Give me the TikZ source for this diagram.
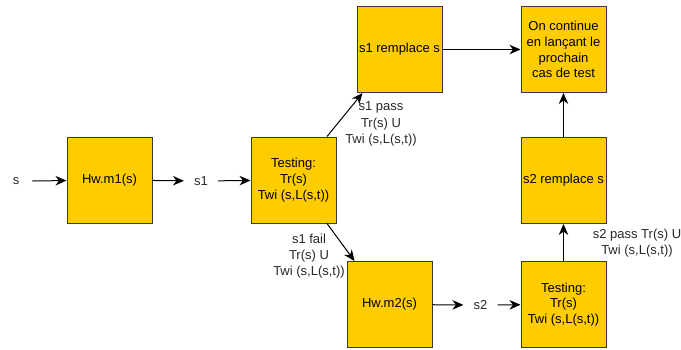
\documentclass[tikz,border=0pt]{standalone}
\usepackage{fontspec}
\setmainfont{Liberation Sans}
\usetikzlibrary{arrows.meta}
\definecolor{boxfill}{RGB}{255,204,0}
\definecolor{boxline}{RGB}{54,57,61}
\definecolor{lbl}{RGB}{40,40,40}
\begin{document}
\begin{tikzpicture}[x=1pt,y=-1pt,
  box/.style={draw=boxline,fill=boxfill,line width=1pt,minimum width=85pt,minimum height=86pt,inner sep=2pt,align=center,font=\fontsize{13}{15.7}\selectfont,text=black},
  sig/.style={inner xsep=10pt,inner ysep=2pt,font=\fontsize{13}{15.7}\selectfont,text=lbl},
  elab/.style={align=center,font=\fontsize{13}{16.2}\selectfont,text=lbl,inner sep=0pt},
  conn/.style={line width=1pt,-{Stealth[length=11pt,width=9.5pt,inset=3.5pt]}}]
\useasboundingbox (0,0) rectangle (681,349);
\node[sig] (s) at (16,181) {s};
\node[box] (hw1) at (109.5,180) {Hw.m1(s)};
\node[sig] (s1) at (201,181) {s1};
\node[box] (t1) at (293.5,180) {Testing:\\Tr(s)\\Twi (s,L(s,t))};
\node[box] (r1) at (399.5,49.5) {s1 remplace s};
\node[box] (oc) at (563.5,49.5) {On continue\\en lançant le\\prochain\\cas de test};
\node[box] (r2) at (563.5,180.5) {s2 remplace s};
\node[box] (hw2) at (389.5,304.5) {Hw.m2(s)};
\node[sig] (s2) at (480.5,305) {s2};
\node[box] (t2) at (563.5,304.5) {Testing:\\Tr(s)\\Twi (s,L(s,t))};
\draw[conn] ([xshift=3pt]s.east) -- (hw1);
\draw[conn] (hw1) -- (s1);
\draw[conn] (s1) -- (t1);
\draw[conn] ([xshift=33.5pt]t1.north) -- ([xshift=6pt]r1.south west);
\draw[conn] ([xshift=33.5pt]t1.south) -- ([xshift=8pt]hw2.north west);
\draw[conn] (r1) -- (oc);
\draw[conn] (r2) -- (oc);
\draw[conn] (hw2) -- (s2);
\draw[conn] (s2) -- (t2);
\draw[conn] (t2) -- (r2);
\node[elab] (lp1) at (381,124) {s1 pass\\Tr(s) U\\Twi (s,L(s,t))};
\node[elab] (lf1) at (309,256) {s1 fail\\Tr(s) U\\Twi (s,L(s,t))};
\node[elab] (lp2) at (637,243) {s2 pass Tr(s) U\\Twi (s,L(s,t))};
\end{tikzpicture}
\end{document}
